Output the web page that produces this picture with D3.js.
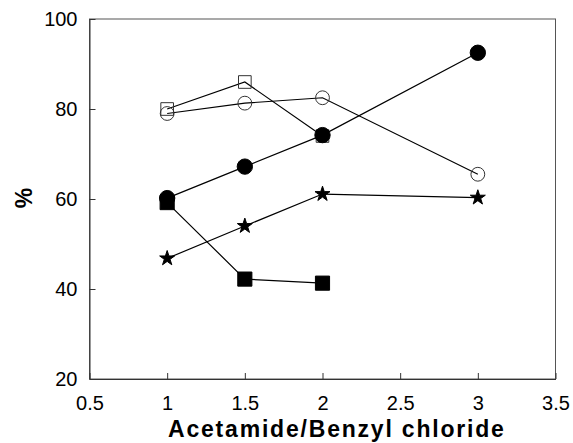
<!DOCTYPE html>
<html lang="en">
<head>
  <meta charset="UTF-8" />
  <title>Acetamide/Benzyl chloride</title>
  <script src="https://d3js.org/d3.v7.min.js"></script>
  <style>
    body {
      margin: 0;
      background: #fff;
      font-family: 'Liberation Sans', Arial, sans-serif;
    }
    svg { display: block; }
  </style>
</head>
<body>
  <div id="chart"></div>

  <script>
    // Data
    const ratios = [1, 1.5, 2, 3];
    const openSquare = [80, 86, 74];           // ratios 1, 1.5, 2
    const openCircle = [79, 81.3, 82.5, 65.5];
    const filledCircle = [60.2, 67.2, 74.2, 92.5];
    const stars = [46.8, 54, 61.1, 60.3];
    const filledSquare = [59.2, 42.2, 41.3];   // ratios 1, 1.5, 2

    const xTicks = [0.5, 1, 1.5, 2, 2.5, 3, 3.5];
    const yTicks = [20, 40, 60, 80, 100];

    const width = 573, height = 443;
    const margin = { top: 19, right: 17.5, bottom: 64, left: 89.5 };

    const svg = d3.select("#chart")
      .append("svg")
      .attr("width", width)
      .attr("height", height);

    const x = d3.scaleLinear()
      .domain([0.5, 3.5])
      .range([margin.left, width - margin.right]);
    const y = d3.scaleLinear()
      .domain([20, 100])
      .range([height - margin.bottom, margin.top]);

    // frame
    svg.append("rect")
      .attr("x", x(0.5))
      .attr("y", y(100))
      .attr("width", x(3.5) - x(0.5))
      .attr("height", y(20) - y(100))
      .attr("fill", "none")
      .attr("stroke", "#555")
      .attr("stroke-width", 1);

    // axes, ticks point inwards
    const xAxis = d3.axisBottom(x).tickValues(xTicks)
      .tickSizeInner(-6).tickSizeOuter(0).tickPadding(17)
      .tickFormat(d3.format("~g"));
    const yAxis = d3.axisLeft(y).tickValues(yTicks)
      .tickSizeInner(-6).tickSizeOuter(0).tickPadding(12);

    const gx = svg.append("g")
      .attr("transform", `translate(0,${y(20)})`)
      .call(xAxis);
    const gy = svg.append("g")
      .attr("transform", `translate(${x(0.5)},0)`)
      .call(yAxis);

    [gx, gy].forEach(g => {
      g.select(".domain").attr("stroke", "#333");
      g.selectAll(".tick line").attr("stroke", "#333");
      g.selectAll(".tick text")
        .attr("font-family", "'Liberation Sans', Arial, sans-serif")
        .attr("font-size", 20)
        .attr("fill", "#000");
    });

    // axis titles
    svg.append("text")
      .attr("x", 168)
      .attr("y", 437)
      .attr("font-size", 23)
      .attr("font-weight", "bold")
      .attr("letter-spacing", 1.8)
      .text("Acetamide/Benzyl chloride");

    svg.append("text")
      .attr("transform", `translate(32,198) rotate(-90)`)
      .attr("text-anchor", "middle")
      .attr("font-size", 23)
      .attr("font-weight", "bold")
      .text("%");

    const line = d3.line().x(d => x(d[0])).y(d => y(d[1]));

    const series = [
      { values: openSquare, symbol: d3.symbolSquare, size: 160, fill: "#fff" },
      { values: openCircle, symbol: d3.symbolCircle, size: 150, fill: "#fff" },
      { values: filledCircle, symbol: d3.symbolCircle, size: 185, fill: "#000" },
      { values: stars, symbol: d3.symbolStar, size: 70, fill: "#000" },
      { values: filledSquare, symbol: d3.symbolSquare, size: 200, fill: "#000" }
    ];

    series.forEach(s => {
      const pts = s.values.map((v, i) => [ratios[i], v]);
      svg.append("path")
        .attr("d", line(pts))
        .attr("fill", "none")
        .attr("stroke", "#000")
        .attr("stroke-width", 1.2);
    });

    series.forEach(s => {
      const pts = s.values.map((v, i) => [ratios[i], v]);
      svg.append("g").selectAll("path")
        .data(pts)
        .enter()
        .append("path")
        .attr("transform", d => `translate(${x(d[0])},${y(d[1])})`)
        .attr("d", d3.symbol().type(s.symbol).size(s.size))
        .attr("fill", s.fill)
        .attr("fill-opacity", s.fill === "#fff" ? 0 : 1)
        .attr("stroke", s.fill === "#fff" ? "#333" : "#000")
        .attr("stroke-width", 1);
    });
  </script>
</body>
</html>
